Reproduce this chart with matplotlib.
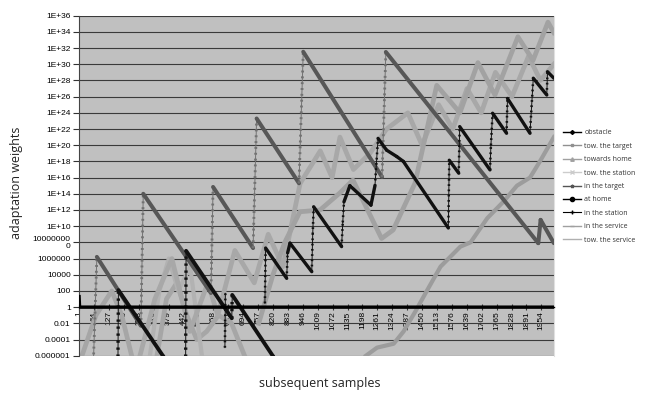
import numpy as np
import matplotlib.pyplot as plt
from matplotlib.lines import Line2D

# ---- data: vertices (sample index, adaptation weight) ----
n_samples = 2007

obstacle_x = [1, 3, 2007]
obstacle_y = [20, 1, 1]

in_target_x = [60, 76, 262, 272, 558, 567, 736, 751, 930, 948, 1281, 1297, 1941, 1951, 2007]
in_target_y = [1e-8, 1.6e6, 5e-3, 1e14, 56, 7e14, 2e7, 2e23, 2e15, 3.5e31, 1.2e16,
               3.3e31, 8e7, 6e10, 8e7]

at_home_x = [165, 167, 357, 380, 381, 451, 453, 646, 648, 821, 840]
at_home_y = [1e-7, 126, 8e-7, 1e-8, np.nan, 1e-7, 9e6, 4.2e-2, 32, 8e-7, 1e-8]

in_station_x = [617, 619, 622, 623, 786, 789, 878, 882, 892, 984, 988, 992, 1110, 1115,
                1120, 1145, 1234, 1251, 1264, 1300, 1343, 1371, 1561, 1565, 1605, 1609,
                1737, 1741, 1748, 1807, 1811, 1906, 1920, 1977, 1980, 2007]
in_station_y = [1e-5, 50, np.nan, np.nan, 3, 2e7, 3.6e3, 5e6, 8e7, 2.4e4, 1e9, 2.5e12,
                3e7, 3e10, 1e13, 1e15, 4e12, 1e15, 7e20, 2.5e19, 4e18, 1e18, 6e9,
                1.4e18, 3.5e16, 2e22, 9e16, 1e20, 9e23, 3e21, 6e25, 3e21, 1.9e28,
                1.6e26, 1.2e29, 1.9e28]

tow_target_x = [760, 820, 870, 934, 1019, 1103, 1158, 1279, 1328, 1420, 1512, 1610, 1686,
                1758, 1855, 1919, 1982, 2007]
tow_target_y = [1e-2, 1e4, 1e8, 6e11, 1e12, 1.3e14, 5e15, 3e8, 3.4e9, 2e15, 2.5e27,
                1e24, 1.6e30, 1.6e26, 2.5e33, 3e30, 1.6e35, 8e33]

tow_home_x = [258, 321, 393, 469, 545, 587, 659, 741, 800, 862, 935, 1020, 1070, 1103,
              1160, 1230, 1300, 1390, 1450, 1520, 1580, 1640, 1700, 1760, 1830, 1900,
              1950, 2007]
tow_home_y = [1e-6, 1e1, 1e6, 1e-3, 1e3, 1e-1, 1e7, 1e3, 1e9, 1e5, 2e15, 2e19, 1e16,
              1e21, 1e17, 1e19, 1e22, 1e24, 1e20, 1e25, 1e22, 1e27, 1e24, 1e29, 1e26,
              1e31, 1e28, 1e30]

tow_service_x = [1213, 1260, 1330, 1372, 1422, 1470, 1528, 1612, 1655, 1726, 1793, 1851,
                 1906, 1948, 2007]
tow_service_y = [1e-6, 1e-5, 3e-5, 1e-3, 3e-1, 1e2, 1e5, 3e7, 1e8, 1e11, 1e13, 1e15,
                 1e16, 1e18, 1e21]

in_service_x = [13, 72, 139, 181, 223, 270, 330, 370, 414, 456, 498, 540, 590, 645, 700]
in_service_y = [1e-6, 1e-1, 1e2, 1e-1, 1e-6, np.nan, 1e-6, 1e1, 1e3, 1e-1, 1e-4,
                1e-3, 1e-1, 1e-2, 1e-6]

tow_station_x = [300, 340, 380, 420, 470, 520]
tow_station_y = [1e-6, 1e2, 1e6, 1e2, 1e5, 1e-6]

series_names = ["obstacle", "tow. the target", "towards home", "tow. the station",
                "in the target", "at home", "in the station", "in the service",
                "tow. the service"]

y_ticks = [10.0 ** k for k in range(-6, 37, 2)]
y_tick_labels = ["0.000001", "0.0001", "0.01", "1", "100", "10000", "1000000",
                 "10000000\n0", "1E+10", "1E+12", "1E+14", "1E+16", "1E+18", "1E+20",
                 "1E+22", "1E+24", "1E+26", "1E+28", "1E+30", "1E+32", "1E+34", "1E+36"]
x_ticks = list(range(1, n_samples, 63))


def draw_saw(ax, xs, ys, color, lw, dot_color, dot_lw):
    # fast rises show up as dotted (sparse markers), slow decays as thick bands
    xs = np.asarray(xs, float)
    ys = np.asarray(ys, float)
    for x0, x1, y0, y1 in zip(xs[:-1], xs[1:], ys[:-1], ys[1:]):
        if np.isnan(y0) or np.isnan(y1):
            continue
        steep = abs(np.log10(y1 / y0)) / max(x1 - x0, 1e-9) > 0.3
        if steep:
            ax.plot([x0, x1], [y0, y1], color=dot_color, lw=0.7, zorder=4)
            ax.plot([x0, x1], [y0, y1], color=dot_color, lw=dot_lw,
                    ls=(0, (0.7, 1.4)), zorder=4)
        else:
            ax.plot([x0, x1], [y0, y1], color=color, lw=lw, solid_capstyle="round", zorder=4)


fig = plt.figure(figsize=(6.48, 3.94), dpi=100)
ax = fig.add_axes([79 / 648, 1 - 355.7 / 394, 475 / 648, 340 / 394])
ax.set_facecolor("#c0c0c0")

ax.set_yscale("log")
ax.set_ylim(1e-6, 1e36)
ax.set_xlim(0.5, n_samples + 0.5)

# light grey smooth curves behind
ax.plot(in_service_x, in_service_y, color="#a6a6a6", lw=3.4, solid_joinstyle="round", zorder=2)
ax.plot(tow_station_x, tow_station_y, color="#b2b2b2", lw=3, solid_joinstyle="round", zorder=2)
ax.plot(tow_home_x, tow_home_y, color="#a8a8a8", lw=3.4, solid_joinstyle="round", zorder=2)
ax.plot(tow_target_x, tow_target_y, color="#a2a2a2", lw=3.4, solid_joinstyle="round", zorder=2)
ax.plot(tow_service_x, tow_service_y, color="#9c9c9c", lw=3, solid_joinstyle="round", zorder=2)

draw_saw(ax, in_target_x, in_target_y, "#575757", 2.9, "#727272", 2.0)
draw_saw(ax, at_home_x, at_home_y, "#111111", 2.8, "#111111", 2.4)
draw_saw(ax, in_station_x, in_station_y, "#111111", 2.4, "#111111", 1.8)
ax.plot(obstacle_x, obstacle_y, color="black", lw=2.4, zorder=5)

ax.set_yticks(y_ticks)
ax.set_yticklabels(y_tick_labels, fontsize=6, family="Liberation Sans", linespacing=0.9)
ax.yaxis.set_minor_locator(plt.NullLocator())
ax.grid(axis="y", color="#3a3a3a", lw=0.8)
ax.set_axisbelow(True)
ax.tick_params(axis="y", direction="out", length=4, width=0.8, pad=2, color="#333333")

ax.spines["bottom"].set_position(("data", 1))
ax.spines["bottom"].set_color("black")
ax.spines["bottom"].set_linewidth(1)
ax.spines["top"].set_visible(False)
ax.spines["right"].set_color("#e0e0e0")
ax.spines["left"].set_color("#444444")
ax.set_xticks(x_ticks)
ax.set_xticklabels([str(t) for t in x_ticks], rotation=90, fontsize=6,
                   family="Liberation Sans")
ax.tick_params(axis="x", direction="inout", length=4, width=0.8, pad=1, color="#333333")

fig.text(320 / 648, 1 - 384 / 394, "subsequent samples", ha="center", va="center",
         fontsize=9, family="Open Sans", color="#222222")
fig.text(17 / 648, 1 - 183 / 394, "adaptation weights", ha="center", va="center",
         rotation=90, fontsize=9, family="Open Sans", color="#222222")

handles = [
    Line2D([], [], color="black", lw=1, marker="D", ms=2),
    Line2D([], [], color="#909090", lw=1, marker="s", ms=2),
    Line2D([], [], color="#a0a0a0", lw=1, marker="^", ms=2.5),
    Line2D([], [], color="#cccccc", lw=1, marker="x", ms=2.5),
    Line2D([], [], color="#555555", lw=1, marker="*", ms=2.5),
    Line2D([], [], color="black", lw=1, marker="o", ms=3),
    Line2D([], [], color="black", lw=0.8, marker="+", ms=3),
    Line2D([], [], color="#a0a0a0", lw=1, marker="_", ms=3),
    Line2D([], [], color="#b0b0b0", lw=1),
]
fig.legend(handles, series_names, loc="upper left", bbox_to_anchor=(560 / 648, 1 - 126 / 394),
           frameon=False, prop={"family": "Open Sans", "size": 5}, handlelength=2.5,
           handletextpad=0.5, labelspacing=0.92, borderpad=0, labelcolor="#333333")

fig.savefig("out.png", dpi=100)
